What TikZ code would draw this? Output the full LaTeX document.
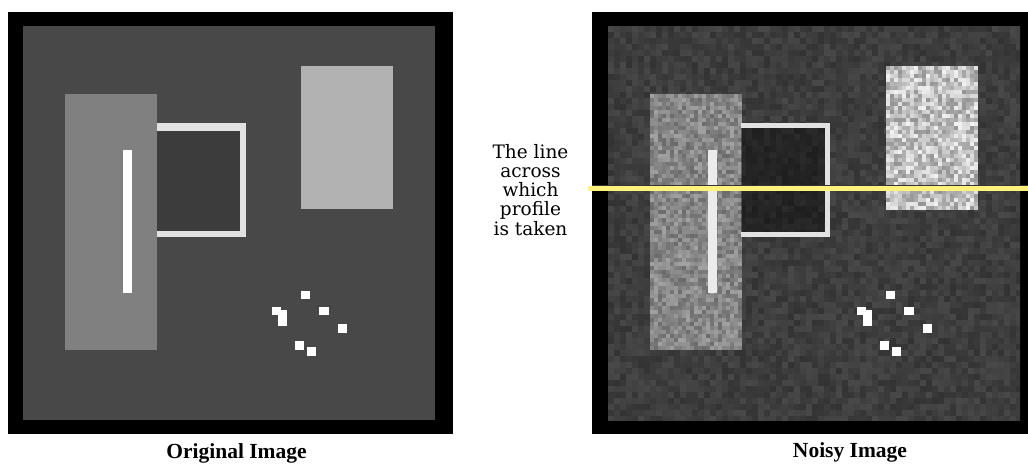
\documentclass[tikz,border=0pt]{standalone}
\usepackage{fontspec}
\setmainfont{Liberation Serif}
\newfontfamily\notefont{DejaVu Serif}
\definecolor{grund}{HTML}{484848}
\definecolor{hellgrau}{HTML}{B2B2B2}
\definecolor{mittelgrau}{HTML}{808080}
\definecolor{rahmen}{HTML}{E2E2E2}
\definecolor{innen}{HTML}{3C3C3C}
\definecolor{profil}{HTML}{FFF27A}
\tikzset{
  caption/.style={anchor=base, font=\bfseries\fontsize{21.5}{25}\selectfont},
  note/.style={anchor=north, align=center, inner sep=0pt,
    font=\notefont\fontsize{18.5}{19.2}\selectfont}
}
\begin{document}
\begin{tikzpicture}[x=1pt,y=-1pt]
\useasboundingbox (0,0) rectangle (1028,465);
\def \dx {585};
\pgfmathsetseed{4711}
% Originalbild
\fill[black] (8,12) rectangle (453,434);
\fill[grund] (23,26) rectangle (435,420);
\fill[mittelgrau] (65,94) rectangle (157,350);
\fill[white] (123,150) rectangle (132,293);
\fill[rahmen] (157,123) rectangle (246,237);
\fill[innen] (157,131) rectangle (240,231);
\fill[hellgrau] (301,66) rectangle (393,209);
\foreach \x/\y/\w/\h in {301/291/9/8, 272.3/307.3/8.4/8, 277.7/310/9/16.3,
  318.7/307.3/10.3/8, 337.7/323.7/9/9.6, 295.3/341.3/9/8.7, 307.3/347/8.4/8.7}
  \fill[white] (\x,\y) rectangle +(\w,\h);
% verrauschtes Bild
\fill[black] (592,12) rectangle (1028,434);
\begin{scope}[xshift=\dx]
  \clip (23,26) rectangle (435,420);
  \foreach \i in {0,...,68}
  \foreach \j in {0,...,65} {
    \pgfmathtruncatemacro\g{62+11*rand}
    \fill[fill={rgb,255:red,\g;green,\g;blue,\g}] (23+6*\i,26+6*\j) rectangle +(6,6);
  }
  % linkes Rechteck
  \foreach \i in {0,...,22}
  \foreach \j in {0,...,63} {
    \pgfmathtruncatemacro\g{min(255,135+28*rand)}
    \fill[fill={rgb,255:red,\g;green,\g;blue,\g}] (65+4*\i,94+4*\j) rectangle +(4,4);
  }
  % rechtes Rechteck
  \foreach \i in {0,...,22}
  \foreach \j in {0,...,35} {
    \pgfmathtruncatemacro\g{min(255,195+48*rand)}
    \fill[fill={rgb,255:red,\g;green,\g;blue,\g}] (301+4*\i,66+4*\j) rectangle +(4,4);
  }
  \fill[white!92!black] (123,150) rectangle (132,293);
  % Rahmen mit dunklem Inneren
  \fill[black,opacity=.4] (156,128) rectangle (240,232);
  \fill[rahmen] (156,123) rectangle (245,128);
  \fill[rahmen] (240,123) rectangle (245,237);
  \fill[rahmen] (156,232) rectangle (245,237);
  \foreach \x/\y/\w/\h in {301/291/9/8, 272.3/307.3/8.4/8, 277.7/310/9/16.3,
    318.7/307.3/10.3/8, 337.7/323.7/9/9.6, 295.3/341.3/9/8.7, 307.3/347/8.4/8.7}
    \fill[white] (\x,\y) rectangle +(\w,\h);
\end{scope}
% Profillinie
\coordinate (pa) at (590,188.5);
\coordinate (pb) at (1028,188.5);
\draw[black!80,line width=1] (592,185.5) -- (pb |- 0,185.5);
\draw[profil,line width=5,line cap=round] (pa) -- (pb);
% Beschriftung
\node[caption] (orig) at (236.5,458) {Original Image};
\node[caption] (noisy) at (850,457) {Noisy Image};
\node[note] (text) at (530.5,144) {The line\\across\\which\\profile\\is taken};
\end{tikzpicture}
\end{document}
